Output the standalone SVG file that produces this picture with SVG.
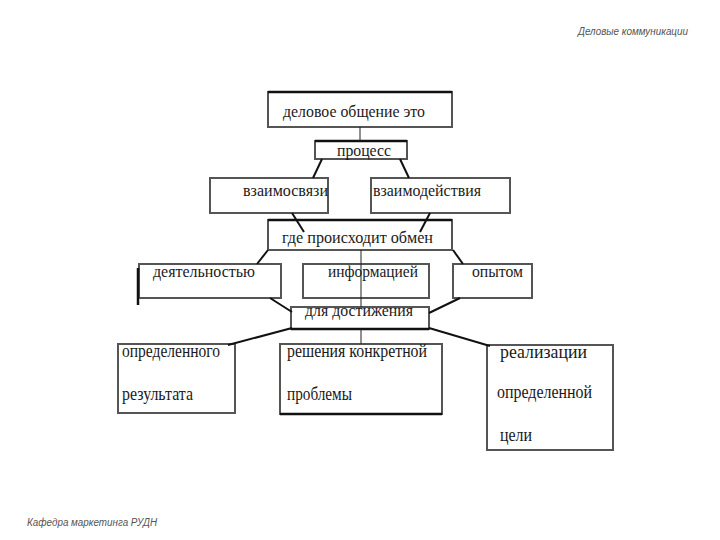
<svg xmlns="http://www.w3.org/2000/svg" width="720" height="540" viewBox="0 0 720 540">
<style>
.box{fill:#fff;stroke:#555;stroke-width:2}
.top{stroke:#111;stroke-width:2.5}
.t{font-family:"Liberation Serif","Times New Roman",serif;font-size:17px;fill:#1a1a1a}
.b{font-family:"Liberation Serif","Times New Roman",serif;font-size:19px;fill:#1a1a1a}
.c{stroke:#111;stroke-width:2;fill:none}
.thin{stroke:#222;stroke-width:1;fill:none}
.hdr{font-family:"Liberation Sans",Arial,sans-serif;font-size:10px;font-style:italic;fill:#555}
</style>
<rect width="720" height="540" fill="#fff"/>
<text class="hdr" x="578" y="35" textLength="110" lengthAdjust="spacingAndGlyphs">Деловые коммуникации</text>
<text class="hdr" x="27" y="526" textLength="130" lengthAdjust="spacingAndGlyphs">Кафедра маркетинга РУДН</text>
<g id="n1"><rect class="box" x="268" y="92" width="184" height="35"/><line class="top" x1="268" y1="92" x2="452" y2="92"/><text class="t" x="283" y="117" textLength="142" lengthAdjust="spacingAndGlyphs">деловое общение это</text></g>
<g id="n2"><rect class="box" x="315" y="141" width="92" height="18"/><line class="top" x1="315" y1="141" x2="407" y2="141"/><text class="t" x="337" y="156" textLength="54" lengthAdjust="spacingAndGlyphs">процесс</text></g>
<g id="n3"><rect class="box" x="210" y="178" width="118" height="35"/><text class="t" x="243" y="196" textLength="85" lengthAdjust="spacingAndGlyphs">взаимосвязи</text></g>
<g id="n4"><rect class="box" x="371" y="178" width="139" height="35"/><text class="t" x="373" y="196" textLength="108" lengthAdjust="spacingAndGlyphs">взаимодействия</text></g>
<g id="n5"><rect class="box" x="268" y="220" width="184" height="30"/><line class="top" x1="268" y1="220" x2="452" y2="220"/><text class="t" x="282" y="243" textLength="151" lengthAdjust="spacingAndGlyphs">где происходит обмен</text></g>
<g id="n6"><rect class="box" x="139" y="264" width="142" height="34"/><line class="top" x1="138" y1="268" x2="138" y2="305"/><text class="t" x="153" y="277" textLength="102" lengthAdjust="spacingAndGlyphs">деятельностью</text></g>
<g id="n7"><rect class="box" x="303" y="264" width="126" height="34"/><text class="t" x="328" y="277" textLength="90" lengthAdjust="spacingAndGlyphs">информацией</text></g>
<g id="n8"><rect class="box" x="453" y="264" width="79" height="34"/><text class="t" x="472" y="277" textLength="51" lengthAdjust="spacingAndGlyphs">опытом</text></g>
<g id="n9"><rect class="box" x="291" y="307" width="138" height="22"/><line class="top" x1="291" y1="329" x2="429" y2="329"/><text class="t" x="305" y="316" textLength="108" lengthAdjust="spacingAndGlyphs">для достижения</text></g>
<g id="n10"><rect class="box" x="118" y="344" width="117" height="69"/><text class="b" x="122" y="357" textLength="98" lengthAdjust="spacingAndGlyphs">определенного</text><text class="b" x="122" y="400" textLength="71" lengthAdjust="spacingAndGlyphs">результата</text></g>
<g id="n11"><rect class="box" x="280" y="344" width="162" height="70"/><line class="top" x1="280" y1="414" x2="442" y2="414"/><text class="b" x="287" y="357" textLength="140" lengthAdjust="spacingAndGlyphs">решения конкретной</text><text class="b" x="287" y="400" textLength="65" lengthAdjust="spacingAndGlyphs">проблемы</text></g>
<g id="n12"><rect class="box" x="487" y="345" width="126" height="105"/><text class="b" x="500" y="358" textLength="87" lengthAdjust="spacingAndGlyphs">реализации</text><text class="b" x="497" y="398" textLength="95" lengthAdjust="spacingAndGlyphs">определенной</text><text class="b" x="500" y="441" textLength="32" lengthAdjust="spacingAndGlyphs">цели</text></g>
<g id="connectors">
<line class="thin" x1="360" y1="127" x2="360" y2="141"/>
<line class="c" x1="322" y1="159" x2="313" y2="178"/>
<line class="c" x1="400" y1="159" x2="409" y2="178"/>
<line class="c" x1="292" y1="213" x2="304" y2="232"/>
<line class="c" x1="430" y1="213" x2="420" y2="232"/>
<line class="c" x1="268" y1="250" x2="257" y2="264"/>
<line class="c" x1="453" y1="250" x2="463" y2="264"/>
<line class="thin" x1="361" y1="250" x2="361" y2="307"/>
<line class="thin" x1="361" y1="329" x2="361" y2="344"/>
<line class="c" x1="270" y1="298" x2="292" y2="312"/>
<line class="c" x1="460" y1="298" x2="429" y2="313"/>
<line class="c" x1="292" y1="328" x2="228" y2="345"/>
<line class="c" x1="429" y1="328" x2="490" y2="346"/>
</g>
</svg>
